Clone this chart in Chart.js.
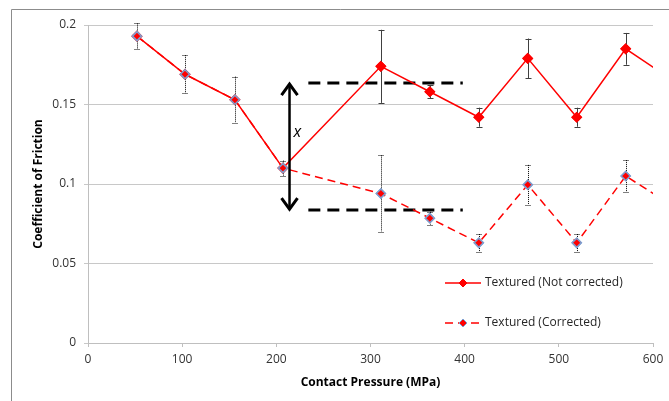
<!DOCTYPE html>
<html>
<head>
<meta charset="utf-8">
<script src="https://cdn.jsdelivr.net/npm/chart.js@4/dist/chart.umd.min.js"></script>
<style>
  body { margin: 0; background: #fff; }
  canvas { display: block; }
</style>
</head>
<body>
<canvas id="myChart" width="669" height="401"></canvas>
<script>
  // contact pressure (MPa) for each test; last one lies past the axis and is clipped
  const pressure = [52, 103, 156, 207, 311, 363, 415, 467, 519, 571, 623];
  const notCorrected = [0.193, 0.169, 0.153, 0.110, 0.174, 0.158, 0.142, 0.179, 0.142, 0.185, 0.1645];
  const notCorrectedErr = [null, null, null, null, 0.023, 0.004, 0.006, 0.0125, 0.006, 0.010, null];
  const corrected = [0.193, 0.169, 0.153, 0.110, 0.094, 0.0785, 0.063, 0.0995, 0.063, 0.105, 0.0855];
  const correctedErr = [0.008, 0.012, 0.0145, 0.0047, 0.024, 0.004, 0.0055, 0.0125, 0.0055, 0.010, null];

  const xTicks = [0, 100, 200, 300, 400, 500, 600];
  const yTicks = [0, 0.05, 0.1, 0.15, 0.2];
  const yTickLabels = ['0', '0.05', '0.1', '0.15', '0.2'];

  // the "x" gap annotation
  const bandX = [234, 398];
  const bandUpper = 0.1635;
  const bandLower = 0.0836;
  const arrowX = 214;

  const FONT = '"Open Sans", "Liberation Sans", sans-serif';

  const toPoints = (ys) => pressure.map((p, i) => ({ x: p, y: ys[i] }));

  const errorBars = {
    id: 'errorBars',
    afterDatasetsDraw(chart) {
      const { ctx, chartArea, scales: { x, y } } = chart;
      const sets = [
        { errs: notCorrectedErr, vals: notCorrected, dash: [], color: '#404040' },
        { errs: correctedErr, vals: corrected, dash: [1, 1], color: '#000' }
      ];
      ctx.save();
      ctx.beginPath();
      ctx.rect(chartArea.left, chartArea.top - 2, chartArea.right - chartArea.left, chartArea.bottom - chartArea.top + 4);
      ctx.clip();
      sets.forEach(s => {
        ctx.strokeStyle = s.color;
        ctx.lineWidth = 1;
        ctx.setLineDash(s.dash);
        s.errs.forEach((e, i) => {
          if (e == null) return;
          const px = Math.round(x.getPixelForValue(pressure[i])) + 0.5;
          const top = y.getPixelForValue(s.vals[i] + e);
          const bot = y.getPixelForValue(s.vals[i] - e);
          ctx.beginPath();
          ctx.moveTo(px, top); ctx.lineTo(px, bot);
          ctx.moveTo(px - 3, Math.round(top) + 0.5); ctx.lineTo(px + 3, Math.round(top) + 0.5);
          ctx.moveTo(px - 3, Math.round(bot) + 0.5); ctx.lineTo(px + 3, Math.round(bot) + 0.5);
          ctx.stroke();
        });
      });
      ctx.restore();

      // markers again so they sit over the error bars
      chart.getSortedVisibleDatasetMetas().slice().reverse().forEach(meta => {
        if (meta.type !== 'line' || !meta.dataset.options) return;
        ctx.save();
        ctx.beginPath();
        ctx.rect(chartArea.left, chartArea.top - 6, chartArea.right - chartArea.left, chartArea.bottom - chartArea.top + 12);
        ctx.clip();
        meta.data.forEach(pt => pt.draw(ctx));
        ctx.restore();
      });
    }
  };

  const annotations = {
    id: 'annotations',
    afterDraw(chart) {
      const { ctx, scales: { x, y } } = chart;
      const ax = x.getPixelForValue(arrowX);
      const yTop = y.getPixelForValue(bandUpper);
      const yBot = y.getPixelForValue(bandLower);
      ctx.save();
      ctx.strokeStyle = '#000';
      ctx.lineWidth = 2.5;
      ctx.lineCap = 'butt';
      ctx.beginPath();
      ctx.moveTo(ax, yTop + 1); ctx.lineTo(ax, yBot - 1);
      ctx.stroke();
      ctx.lineWidth = 3;
      ctx.beginPath();
      ctx.moveTo(ax - 8, yTop + 12); ctx.lineTo(ax, yTop + 1); ctx.lineTo(ax + 8, yTop + 12);
      ctx.moveTo(ax - 8, yBot - 12); ctx.lineTo(ax, yBot - 1); ctx.lineTo(ax + 8, yBot - 12);
      ctx.stroke();
      ctx.fillStyle = '#000';
      ctx.font = 'italic 16px ' + FONT;
      ctx.textAlign = 'left';
      ctx.textBaseline = 'middle';
      ctx.fillText('x', ax + 4, y.getPixelForValue(0.1325));

      // outer frame of the figure
      ctx.strokeStyle = '#8c8c8c';
      ctx.lineWidth = 1;
      ctx.beginPath();
      ctx.moveTo(11.5, 401); ctx.lineTo(11.5, 9.5); ctx.lineTo(669, 9.5);
      ctx.stroke();

      // legend inside the plot
      const items = [
        { text: 'Textured (Not corrected)', dash: [], border: '#ff0000', row: 283 },
        { text: 'Textured (Corrected)', dash: [8, 5], border: '#7f9fd0', row: 323 }
      ];
      items.forEach(it => {
        ctx.strokeStyle = '#ff0000';
        ctx.lineWidth = 1.5;
        ctx.setLineDash(it.dash);
        ctx.beginPath();
        ctx.moveTo(445, it.row); ctx.lineTo(481, it.row);
        ctx.stroke();
        ctx.setLineDash([]);
        ctx.fillStyle = '#ff0000';
        ctx.strokeStyle = it.border;
        ctx.lineWidth = 1;
        ctx.beginPath();
        ctx.moveTo(463, it.row - 4); ctx.lineTo(467, it.row); ctx.lineTo(463, it.row + 4); ctx.lineTo(459, it.row);
        ctx.closePath();
        ctx.fill(); ctx.stroke();
        ctx.fillStyle = '#262626';
        ctx.font = '12px ' + FONT;
        ctx.textAlign = 'left';
        ctx.textBaseline = 'middle';
        ctx.fillText(it.text, 485, it.row);
      });
      ctx.restore();
    }
  };

  const ctx = document.getElementById('myChart').getContext('2d');
  new Chart(ctx, {
    type: 'line',
    data: {
      datasets: [
        {
          label: 'Textured (Corrected)',
          data: toPoints(corrected),
          borderColor: '#ff0000',
          borderWidth: 1.5,
          borderDash: [8, 5],
          backgroundColor: '#ff0000',
          pointStyle: 'rectRot',
          pointRadius: 4.5,
          pointBorderColor: '#7f9fd0',
          pointBorderWidth: 1.5,
          pointBackgroundColor: '#ff0000',
          order: 0
        },
        {
          label: 'Textured (Not corrected)',
          data: toPoints(notCorrected),
          borderColor: '#ff0000',
          borderWidth: 1.5,
          backgroundColor: '#ff0000',
          pointStyle: 'rectRot',
          pointRadius: 4.5,
          pointBorderColor: '#ff0000',
          pointBackgroundColor: '#ff0000',
          order: 1
        },
        {
          data: bandX.map(v => ({ x: v, y: bandUpper })),
          borderColor: '#000',
          borderWidth: 3,
          borderDash: [12, 7],
          pointRadius: 0,
          order: 2
        },
        {
          data: bandX.map(v => ({ x: v, y: bandLower })),
          borderColor: '#000',
          borderWidth: 3,
          borderDash: [12, 7],
          pointRadius: 0,
          order: 2
        }
      ]
    },
    options: {
      responsive: false,
      animation: false,
      layout: { padding: { left: 0, right: 16, top: 25, bottom: 0 } },
      plugins: { legend: { display: false }, tooltip: { enabled: false } },
      elements: { line: { tension: 0, fill: false } },
      scales: {
        x: {
          type: 'linear',
          min: 0, max: 600,
          afterBuildTicks: s => { s.ticks = xTicks.map(v => ({ value: v })); },
          afterFit: s => { s.height = 58; },
          grid: { drawOnChartArea: false, drawTicks: true, tickLength: 4, color: '#bfbfbf' },
          border: { color: '#bfbfbf' },
          ticks: { color: '#333', padding: 5, font: { family: FONT, size: 12 }, maxRotation: 0 },
          title: { display: true, text: 'Contact Pressure (MPa)', color: '#000', padding: { top: 0, bottom: 11 }, font: { family: FONT, size: 12, weight: 'bold' } }
        },
        y: {
          min: 0, max: 0.2,
          afterBuildTicks: s => { s.ticks = yTicks.map(v => ({ value: v })); },
          afterFit: s => { s.width = 88; },
          grid: { color: '#c8c8c8', tickLength: 4 },
          border: { color: '#bfbfbf' },
          ticks: {
            color: '#333', padding: 8, font: { family: FONT, size: 12 },
            callback: (v) => yTickLabels[yTicks.indexOf(v)]
          },
          title: { display: true, text: 'Coefficient of Friction', color: '#000', padding: { top: 31, bottom: 0 }, font: { family: FONT, size: 12, weight: 'bold' } }
        }
      }
    },
    plugins: [errorBars, annotations]
  });
</script>
</body>
</html>
